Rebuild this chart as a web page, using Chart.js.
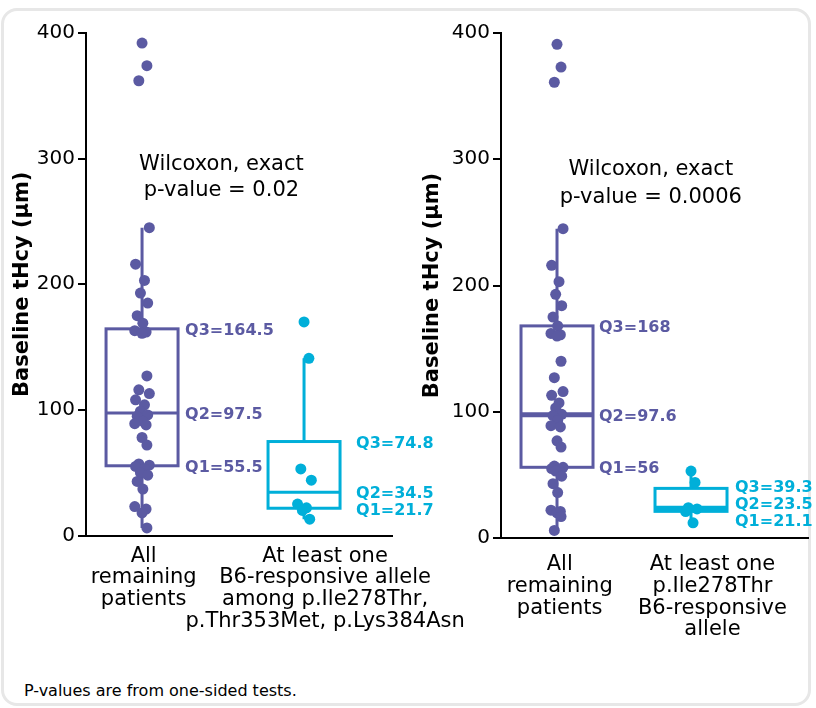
<!DOCTYPE html>
<html>
<head>
<meta charset="utf-8">
<script src="https://cdn.jsdelivr.net/npm/chart.js@4.4.1/dist/chart.umd.min.js"></script>
<style>
  body { margin: 0; background: #fff; font-family: "DejaVu Sans", sans-serif; }
  #wrap { position: relative; width: 816px; height: 708px; overflow: hidden; }
  #card { position: absolute; left: 1px; top: 8px; width: 810px; height: 698px; box-sizing: border-box;
          border: 3px solid #e7e7e7; border-radius: 16px; background: #fff; }
  canvas { position: absolute; top: 0; }
  #left { left: 0; }
  #right { left: 408px; }
  #note { position: absolute; left: 24px; top: 682px; font-size: 16px; line-height: 18px; color: #000; }
</style>
</head>
<body>
<div id="wrap">
  <div id="card"></div>
  <canvas id="left" width="492" height="650"></canvas>
  <canvas id="right" width="408" height="650"></canvas>
  <div id="note">P-values are from one-sided tests.</div>
</div>
<script>
// values
const leftLabels = [["All", "remaining", "patients"],
  ["At least one", "B6-responsive allele", "among p.Ile278Thr,", "p.Thr353Met, p.Lys384Asn"]];
const rightLabels = [["All", "remaining", "patients"],
  ["At least one", "p.Ile278Thr", "B6-responsive", "allele"]];

const leftRemaining = [392, 374, 362, 245, 216, 203, 193, 185, 175, 169, 163, 162, 161, 127, 116, 113,
  108, 104, 99, 96, 95, 91, 89, 88, 78, 72, 57, 56, 55, 53, 50, 48, 43, 37, 23, 21, 18, 6];
const leftResponsive = [170, 141, 53, 44, 25, 22, 20, 13];
const rightRemaining = [391, 373, 361, 245, 216, 203, 193, 184, 175, 168, 162, 161, 160, 140, 127, 116,
  113, 107, 103, 98, 97, 93, 89, 88, 77, 72, 57, 56, 55, 54, 53, 49, 43, 36, 22, 21, 20, 17, 6];
const rightResponsive = [53, 44, 24, 23, 21, 12];

const leftQ1 = [55.5, 21.7], leftQ2 = [97.5, 34.5], leftQ3 = [164.5, 74.8];
const leftLow = [6, 13], leftHigh = [245, 141];
const rightQ1 = [56, 21.1], rightQ2 = [97.6, 23.5], rightQ3 = [168, 39.3];
const rightLow = [6, 12], rightHigh = [245, 53];

const leftP = "0.02";
const rightP = "0.0006";

const PURPLE = "#5b5aa2";
const CYAN = "#00afd9";
Chart.defaults.font.family = "'DejaVu Sans', sans-serif";
Chart.defaults.color = "#000";

const jitter = [0, 0.6, -0.4, 0.9, -0.8, 0.3, -0.2, 0.7, -0.6, 0.1, -0.9, 0.5];

const boxPlugin = {
  id: "boxes",
  beforeDatasetsDraw(chart, args, o) {
    const { ctx, scales: { x, y } } = chart;
    ctx.save();
    o.q1.forEach((q1, i) => {
      const cx = x.getPixelForValue(i + 1);
      const top = y.getPixelForValue(o.q3[i]), bot = y.getPixelForValue(q1);
      ctx.strokeStyle = o.colors[i];
      ctx.lineWidth = 3;
      ctx.strokeRect(cx - 36, top, 72, bot - top);
      ctx.beginPath();
      ctx.moveTo(cx, top); ctx.lineTo(cx, y.getPixelForValue(o.high[i]));
      ctx.moveTo(cx, bot); ctx.lineTo(cx, y.getPixelForValue(o.low[i]));
      ctx.stroke();
      const my = y.getPixelForValue(o.q2[i]);
      ctx.lineWidth = o.medianWidth;
      ctx.beginPath(); ctx.moveTo(cx - 36, my); ctx.lineTo(cx + 36, my); ctx.stroke();
    });
    ctx.restore();
  },
  afterDatasetsDraw(chart, args, o) {
    const { ctx, scales: { x, y } } = chart;
    ctx.save();
    ctx.font = "bold 16px 'DejaVu Sans'";
    ctx.textBaseline = "middle";
    ctx.textAlign = "left";
    o.q1.forEach((q1, i) => {
      const cx = x.getPixelForValue(i + 1);
      const items = [["Q3=", o.q3[i]], ["Q2=", o.q2[i]], ["Q1=", q1]]
        .map(([t, v]) => ({ t: t + v, y: y.getPixelForValue(v) + 2 }));
      for (let k = 0; k < 30; k++) {
        for (let j = 0; j < items.length - 1; j++) {
          const gap = items[j + 1].y - items[j].y;
          if (gap < 17) { items[j].y -= (17 - gap) / 2; items[j + 1].y += (17 - gap) / 2; }
        }
      }
      ctx.fillStyle = o.colors[i];
      items.forEach(it => ctx.fillText(it.t, cx + 36 + o.gap[i], it.y));
    });
    ctx.font = "21px 'DejaVu Sans'";
    ctx.fillStyle = "#000";
    ctx.textAlign = "center";
    o.note.lines.forEach((t, k) => ctx.fillText(t, x.getPixelForValue(o.note.x), y.getPixelForValue(o.note.y[k])));
    ctx.restore();
  }
};

function makeChart(id, c) {
  const ds = c.series.map((vals, i) => ({
    type: "scatter",
    data: vals.map((v, k) => ({ x: i + 1 + jitter[k % jitter.length] * 0.05, y: v })),
    backgroundColor: c.colors[i],
    borderWidth: 0,
    pointRadius: 5.5,
    pointHoverRadius: 5.5
  }));
  return new Chart(document.getElementById(id), {
    type: "scatter",
    data: { datasets: ds },
    plugins: [boxPlugin],
    options: {
      responsive: false,
      animation: false,
      events: [],
      layout: { padding: { top: 33, right: c.padRight, bottom: 0, left: 0 } },
      plugins: {
        legend: { display: false },
        tooltip: { enabled: false },
        boxes: { q1: c.q1, q2: c.q2, q3: c.q3, low: c.low, high: c.high, colors: c.colors,
                 medianWidth: c.medianWidth, gap: c.gap, note: c.note }
      },
      scales: {
        x: {
          type: "linear", min: c.xMin, max: c.xMax,
          afterBuildTicks: s => { s.ticks = c.labelAt.map(v => ({ value: v })); },
          afterFit: s => { s.height = 650 - c.bottom; s.paddingLeft = 0; s.paddingRight = 0; },
          ticks: { callback: (v, i) => c.labels[i], font: { size: 21, lineHeight: 1.03 },
                   padding: c.labelPad, minRotation: 0, maxRotation: 0, autoSkip: false },
          grid: { display: false, drawTicks: false },
          border: { color: "#000", width: 2 }
        },
        y: {
          min: 0, max: 400,
          afterFit: s => { s.width = c.axisX; },
          ticks: { stepSize: 100, font: { size: 20 }, padding: 3 },
          grid: { drawOnChartArea: false, drawTicks: true, tickLength: 8, color: "#000", lineWidth: 2 },
          border: { color: "#000", width: 2 },
          title: { display: true, text: "Baseline tHcy (µm)", font: { size: 21, weight: "bold" },
                   padding: { top: c.titlePad, bottom: 0 } }
        }
      }
    }
  });
}

makeChart("left", {
  labels: leftLabels, series: [leftRemaining, leftResponsive], colors: [PURPLE, CYAN],
  q1: leftQ1, q2: leftQ2, q3: leftQ3, low: leftLow, high: leftHigh,
  xMin: 0.654, xMax: 2.543, labelAt: [1.01, 2.13], labelPad: 10, bottom: 535.5,
  axisX: 86, titlePad: 10, padRight: 100, medianWidth: 3, gap: [7, 16],
  note: { x: 1.49, y: [295, 274.3], lines: ["Wilcoxon, exact", "p-value = " + leftP] }
});

makeChart("right", {
  labels: rightLabels, series: [rightRemaining, rightResponsive], colors: [PURPLE, CYAN],
  q1: rightQ1, q2: rightQ2, q3: rightQ3, low: rightLow, high: rightHigh,
  xMin: 0.582, xMax: 2.873, labelAt: [1.02, 2.16], labelPad: 16, bottom: 538,
  axisX: 93, titlePad: 12, padRight: 8, medianWidth: 5, gap: [6, 8],
  note: { x: 1.70, y: [291.5, 269.3], lines: ["Wilcoxon, exact", "p-value = " + rightP] }
});
</script>
</body>
</html>
